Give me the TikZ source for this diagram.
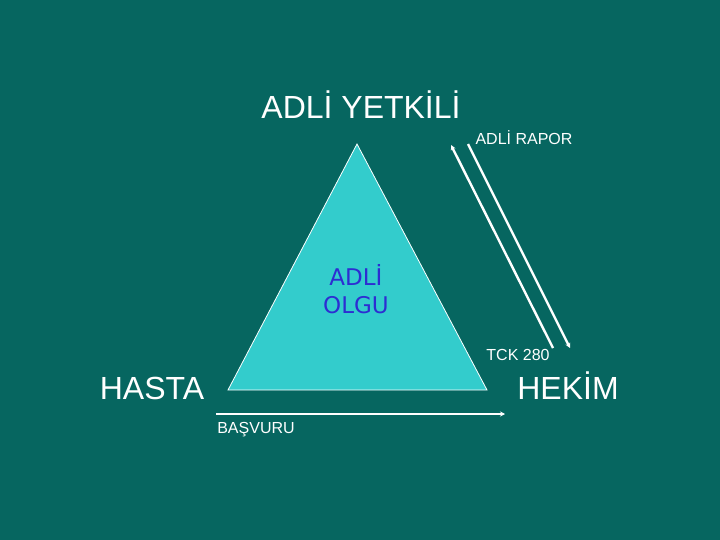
\documentclass[tikz,border=0pt]{standalone}
\usepackage{fontspec}
\setmainfont{Liberation Sans}
\newfontfamily\olgufont{DejaVu Sans}
\usetikzlibrary{arrows.meta}
\definecolor{bgteal}{RGB}{6,102,96}
\definecolor{trifill}{RGB}{51,204,204}
\definecolor{olgublue}{RGB}{45,45,210}
\tikzset{
  bigtext/.style={text=white,font=\fontsize{32}{36}\selectfont,inner sep=0pt,anchor=base},
  smalltext/.style={text=white,font=\fontsize{16}{18}\selectfont,inner sep=0pt,anchor=base},
  arrowline/.style={white,line width=2.4pt,-{Stealth[length=5pt,width=5pt]}},
  olgutext/.style={text=olgublue,font=\olgufont\fontsize{23}{28}\selectfont,inner sep=0pt,anchor=base},
}
\begin{document}
\begin{tikzpicture}[x=1pt,y=-1pt]
\fill[bgteal] (0,0) rectangle (720,540);
\useasboundingbox (0,0) rectangle (720,540);
% triangle
\coordinate (apex) at (357,144);
\coordinate (bl) at (228,390);
\coordinate (br) at (487,390);
\filldraw[fill=trifill,draw=white,line width=0.8pt] (apex) -- (bl) -- (br) -- cycle;
\node[olgutext] (adli) at (356,285) {ADLİ};
\node[olgutext] (olgu) at (356,313) {OLGU};
% labels
\node[bigtext] (yetkili) at (361,119) {ADLİ YETKİLİ};
\node[bigtext] (hasta) at (152,399) {HASTA};
\node[bigtext] (hekim) at (568,399) {HEKİM};
\node[smalltext] (rapor) at (524,145) {ADLİ RAPOR};
\node[smalltext] (tck) at (518,360) {TCK 280};
\node[smalltext] (basvuru) at (256,433) {BAŞVURU};
% arrows
\coordinate (r1s) at (553,348);
\coordinate (r1e) at (451,145);
\coordinate (r2s) at (468,144);
\coordinate (r2e) at (570,348);
\coordinate (bs) at (216,414);
\coordinate (be) at (505,414);
\draw[arrowline] (r1s) -- (r1e);
\draw[arrowline] (r2s) -- (r2e);
\draw[arrowline] (bs) -- (be);
\end{tikzpicture}
\end{document}
